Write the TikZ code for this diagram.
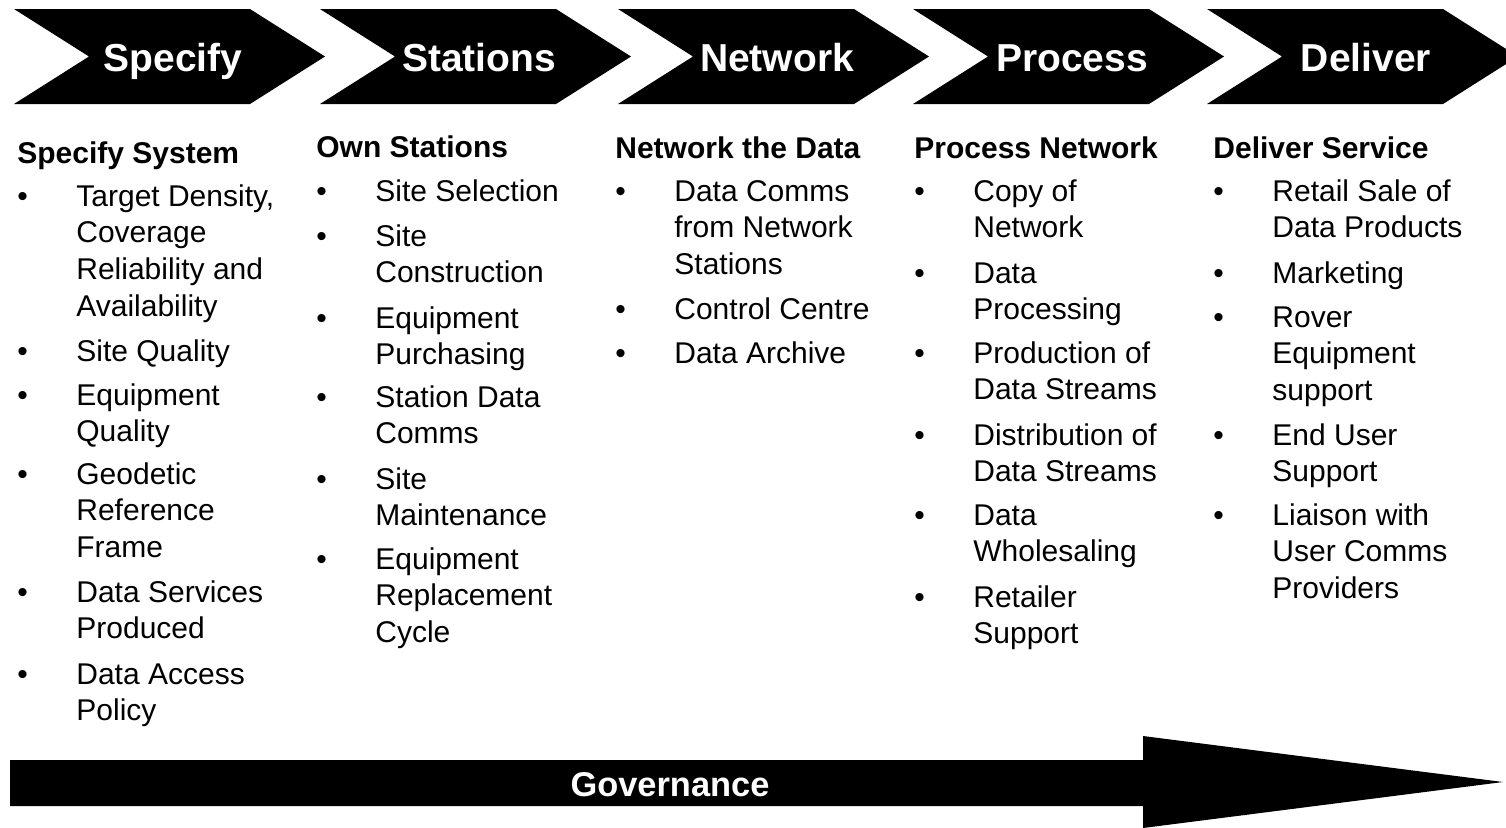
\documentclass[tikz,border=0pt]{standalone}
\usepackage{fontspec}
\setmainfont{Liberation Sans}

\tikzset{
	chevron/.style={fill=black},
	steplabel/.style={anchor=base,inner sep=0,text=white,font=\fontsize{19.5}{23}\selectfont\bfseries},
	govlabel/.style={anchor=base,inner sep=0,text=white,font=\fontsize{17.2}{20}\selectfont\bfseries},
	heading/.style={anchor=base west,inner sep=0,font=\fontsize{15}{18}\selectfont\bfseries},
	entry/.style={anchor=base west,inner sep=0,font=\fontsize{15}{18.4}\selectfont},
	dot/.style={anchor=base west,inner sep=0,font=\fontsize{15}{18}\selectfont}
}

% bullet point: name, x, baseline of first line, lines
\newcommand{\bulletitem}[4]{
	\node[dot] (#1-dot) at (#2,#3) {\textbullet};
	\node[entry] (#1) at (#2+59,#3) {\begin{tabular}[t]{@{}l@{}}#4\end{tabular}};
}

\begin{document}
\begin{tikzpicture}[x=0.5pt,y=-0.5pt]
		\useasboundingbox (0,0) rectangle (1506,827);
		\clip (0,0) rectangle (1506,827);

		% process chevrons
		\foreach \x/\t/\n in {14/Specify/specify,320/Stations/stations,618/Network/network,913/Process/process,1207/Deliver/deliver}{
			\fill[chevron] (\x,9) -- ++(236,0) -- ++(75,47.5) -- ++(-75,47.5) -- ++(-236,0) -- ++(75,-47.5) -- cycle;
			\node[steplabel] (\n) at (\x+159,71) {\t};
		}

		% headings
		\node[heading] (h-specify) at (17,163) {Specify System};
		\node[heading] (h-stations) at (316,157) {Own Stations};
		\node[heading] (h-network) at (615,158) {Network the Data};
		\node[heading] (h-process) at (914,158) {Process Network};
		\node[heading] (h-deliver) at (1213,158) {Deliver Service};

		% specify
		\bulletitem{density}{17}{206}{Target Density,\\Coverage\\Reliability and\\Availability}
		\bulletitem{sitequality}{17}{361}{Site Quality}
		\bulletitem{eqquality}{17}{405}{Equipment\\Quality}
		\bulletitem{geodetic}{17}{484}{Geodetic\\Reference\\Frame}
		\bulletitem{services}{17}{602}{Data Services\\Produced}
		\bulletitem{access}{17}{684}{Data Access\\Policy}

		% stations
		\bulletitem{selection}{316}{201}{Site Selection}
		\bulletitem{construction}{316}{246}{Site\\Construction}
		\bulletitem{purchasing}{316}{328}{Equipment\\Purchasing}
		\bulletitem{stationcomms}{316}{407}{Station Data\\Comms}
		\bulletitem{maintenance}{316}{489}{Site\\Maintenance}
		\bulletitem{replacement}{316}{569}{Equipment\\Replacement\\Cycle}

		% network
		\bulletitem{datacomms}{615}{201}{Data Comms\\from Network\\Stations}
		\bulletitem{control}{615}{319}{Control Centre}
		\bulletitem{archive}{615}{363}{Data Archive}

		% process
		\bulletitem{copy}{914}{201}{Copy of\\Network}
		\bulletitem{processing}{914}{283}{Data\\Processing}
		\bulletitem{production}{914}{363}{Production of\\Data Streams}
		\bulletitem{distribution}{914}{445}{Distribution of\\Data Streams}
		\bulletitem{wholesaling}{914}{525}{Data\\Wholesaling}
		\bulletitem{retailer}{914}{607}{Retailer\\Support}

		% deliver
		\bulletitem{retail}{1213}{201}{Retail Sale of\\Data Products}
		\bulletitem{marketing}{1213}{283}{Marketing}
		\bulletitem{rover}{1213}{327}{Rover\\Equipment\\support}
		\bulletitem{enduser}{1213}{445}{End User\\Support}
		\bulletitem{liaison}{1213}{525}{Liaison with\\User Comms\\Providers}

		% governance arrow
		\fill[chevron] (10,760) -- (1143,760) -- (1143,736) -- (1503,782) -- (1143,828) -- (1143,806) -- (10,806) -- cycle;
		\node[govlabel] (governance) at (670,796) {Governance};

	\end{tikzpicture}
\end{document}
